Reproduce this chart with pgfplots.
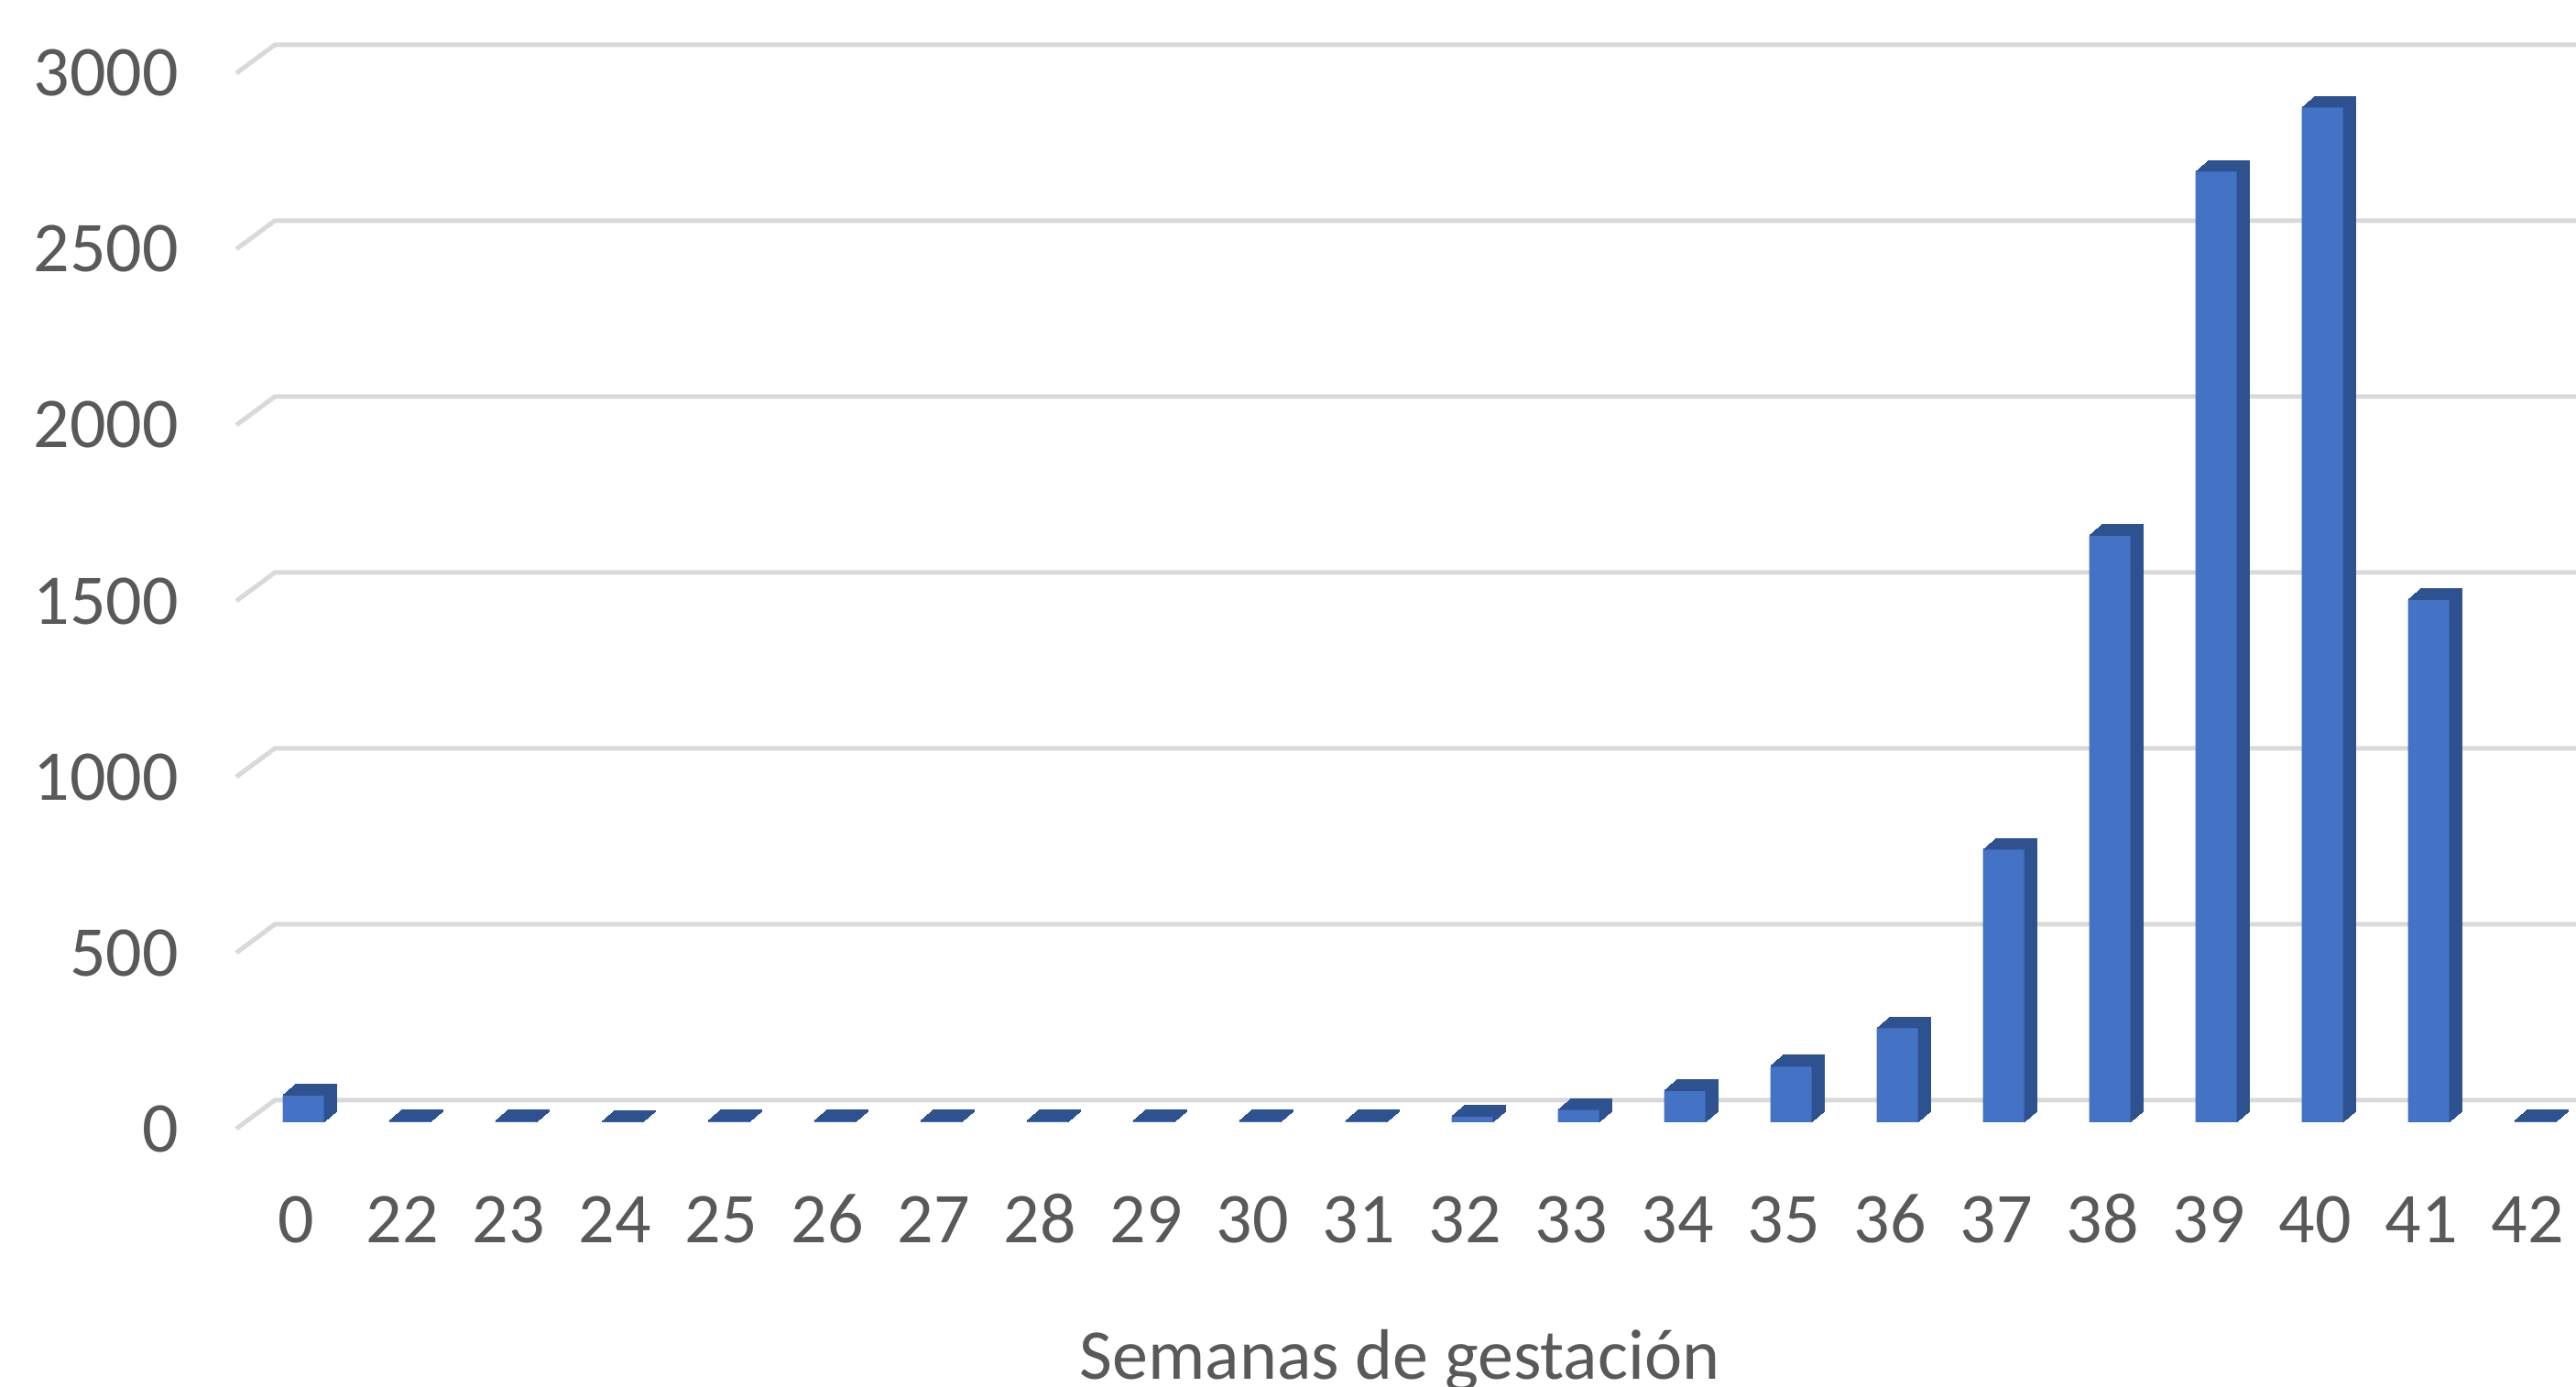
\documentclass[border=0pt]{standalone}
\usepackage{pgfplots}
\usepackage{pgfplotstable}
\pgfplotsset{compat=1.18}
\usepackage{fontspec}
\setmainfont{Carlito}
\definecolor{barfront}{HTML}{4472C4}
\definecolor{bardepth}{HTML}{2E5190}
\definecolor{gridc}{HTML}{D9D9D9}
\definecolor{txt}{HTML}{595959}
\pgfplotstableread{
i v
0 75
1 2
2 2
3 1
4 2
5 2
6 2
7 2
8 3
9 3
10 2
11 15
12 35
13 88
14 158
15 267
16 775
17 1666
18 2702
19 2884
20 1484
21 2
}\data
\begin{document}
\begin{tikzpicture}
\useasboundingbox (0,0) rectangle (421.8pt,226.95pt);
\clip (0,0) rectangle (421.8pt,226.95pt);
\begin{axis}[
  at={(39.75pt,43.2pt)}, anchor=south west,
  scale only axis, width=382.8pt, height=183.75pt,
  xmin=-0.5, xmax=21.5, ymin=0, ymax=3190,
  clip=false,
  axis line style={draw=none},
  major tick length=0pt,
  xtick={0,...,21},
  xticklabels={0,22,23,24,25,26,27,28,29,30,31,32,33,34,35,36,37,38,39,40,41,42},
  ytick={0,500,1000,1500,2000,2500,3000},
  yticklabels={0,500,1000,1500,2000,2500,3000},
  tick label style={font=\fontsize{11.7}{14}\selectfont, text=txt},
  xticklabel style={anchor=base, inner sep=0pt, yshift=-19.8pt},
  yticklabel style={anchor=east, inner sep=0pt, xshift=-10.35pt, yshift=-1.05pt},
  xlabel={Semanas de gestación},
  xlabel style={at={(rel axis cs:0.4949,-0.2286)}, anchor=base, inner sep=0pt,
    font=\fontsize{11.7}{14}\selectfont, text=txt},
]
\pgfplotsinvokeforeach{0,500,1000,1500,2000,2500,3000}{
  \draw[gridc, line width=0.75pt]
    ([xshift=-1.05pt,yshift=-1.05pt]axis cs:-0.5,#1) --
    ([xshift=5.25pt,yshift=3.6pt]axis cs:-0.5,#1) --
    ([yshift=3.6pt]axis cs:22,#1);
}
\pgfplotsinvokeforeach{12,11,10,9,8,7,6,5,4,3,2,1}{
  \addplot[ybar, bar width=6.6pt, bar shift=1.2pt, fill=bardepth, draw=bardepth,
    line width=0.25pt, xshift=#1*0.175pt, yshift=#1*0.15pt] table[x=i,y=v]{\data};
}
\addplot[ybar, bar width=6.75pt, bar shift=1.2pt, fill=barfront, draw=none]
  table[x=i,y=v]{\data};
\end{axis}
\end{tikzpicture}
\end{document}
